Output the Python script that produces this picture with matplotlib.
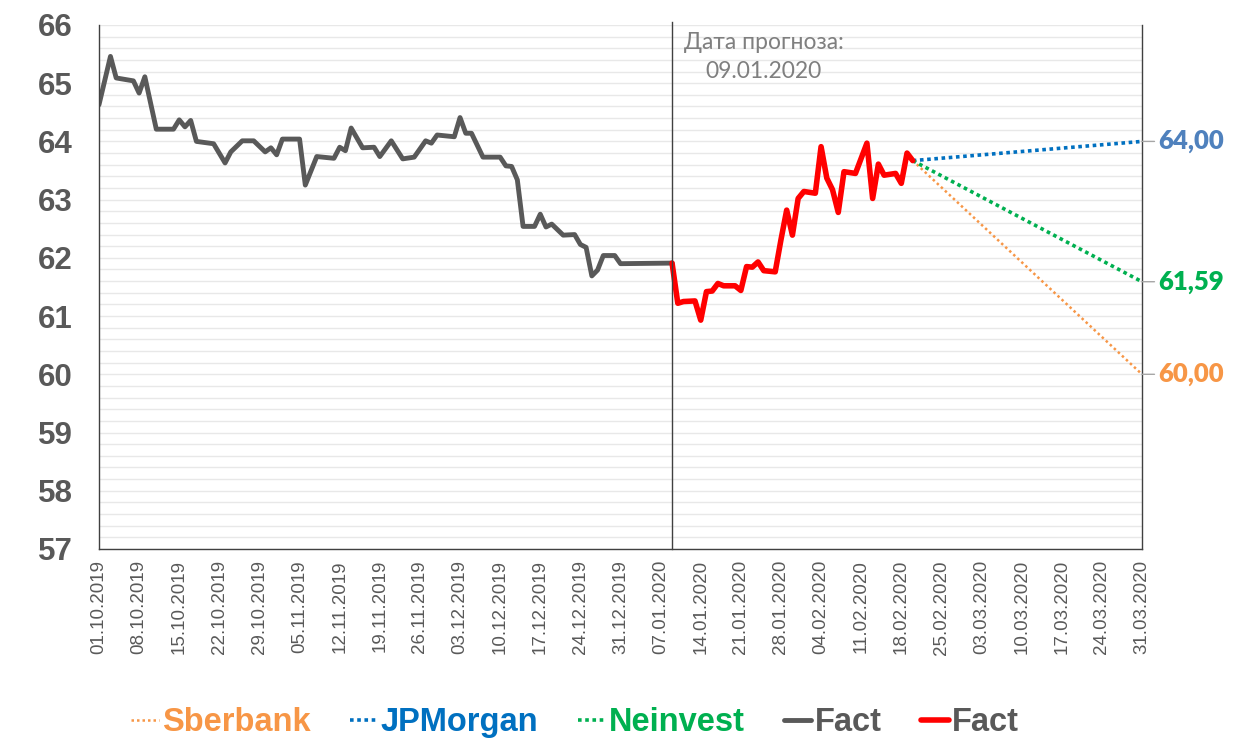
import numpy as np
import pandas as pd
import matplotlib
matplotlib.use('Agg')
import matplotlib.pyplot as plt
import matplotlib.dates as mdates

# --- data ---
gray_dates = ['01.10.2019', '03.10.2019', '04.10.2019', '07.10.2019', '08.10.2019', '09.10.2019',
              '11.10.2019', '14.10.2019', '15.10.2019', '16.10.2019', '17.10.2019', '18.10.2019',
              '21.10.2019', '23.10.2019', '24.10.2019', '26.10.2019', '28.10.2019', '30.10.2019',
              '31.10.2019', '01.11.2019', '02.11.2019', '05.11.2019', '06.11.2019', '08.11.2019',
              '11.11.2019', '12.11.2019', '13.11.2019', '14.11.2019', '16.11.2019', '18.11.2019',
              '19.11.2019', '21.11.2019', '23.11.2019', '25.11.2019', '27.11.2019', '28.11.2019',
              '29.11.2019', '02.12.2019', '03.12.2019', '04.12.2019', '05.12.2019', '07.12.2019',
              '10.12.2019', '11.12.2019', '12.12.2019', '13.12.2019', '14.12.2019', '16.12.2019',
              '17.12.2019', '18.12.2019', '19.12.2019', '21.12.2019', '23.12.2019', '24.12.2019',
              '25.12.2019', '26.12.2019', '27.12.2019', '28.12.2019', '30.12.2019', '31.12.2019',
              '09.01.2020']
gray_values = [64.63, 65.46, 65.09, 65.04, 64.83, 65.11, 64.21, 64.21, 64.37, 64.25, 64.36, 64.00,
               63.96, 63.63, 63.82, 64.01, 64.01, 63.82, 63.89, 63.77, 64.04, 64.04, 63.25, 63.74,
               63.71, 63.90, 63.84, 64.23, 63.89, 63.90, 63.74, 64.01, 63.70, 63.73, 64.01, 63.97,
               64.11, 64.08, 64.41, 64.14, 64.14, 63.73, 63.73, 63.58, 63.57, 63.34, 62.54, 62.54,
               62.75, 62.53, 62.58, 62.39, 62.40, 62.23, 62.18, 61.69, 61.79, 62.04, 62.04, 61.90,
               61.91]

red_dates = ['09.01.2020', '10.01.2020', '11.01.2020', '13.01.2020', '14.01.2020', '15.01.2020',
             '16.01.2020', '17.01.2020', '18.01.2020', '20.01.2020', '21.01.2020', '22.01.2020',
             '23.01.2020', '24.01.2020', '25.01.2020', '27.01.2020', '28.01.2020', '29.01.2020',
             '30.01.2020', '31.01.2020', '01.02.2020', '03.02.2020', '04.02.2020', '05.02.2020',
             '06.02.2020', '07.02.2020', '08.02.2020', '10.02.2020', '12.02.2020', '13.02.2020',
             '14.02.2020', '15.02.2020', '17.02.2020', '18.02.2020', '19.02.2020', '20.02.2020']
red_values = [61.91, 61.22, 61.25, 61.26, 60.93, 61.42, 61.43, 61.56, 61.52, 61.52, 61.44, 61.85,
              61.84, 61.93, 61.78, 61.76, 62.31, 62.82, 62.39, 63.02, 63.14, 63.11, 63.91, 63.37,
              63.17, 62.78, 63.48, 63.45, 63.97, 63.02, 63.61, 63.42, 63.45, 63.28, 63.80, 63.67]

forecast_dates = ['20.02.2020', '31.03.2020']
sberbank = [63.67, 60.00]
jpmorgan = [63.67, 64.00]
neinvest = [63.67, 61.59]

forecast_day = '09.01.2020'
start_day, end_day = '01.10.2019', '31.03.2020'

# --- plotting ---
def to_dt(lst):
    return pd.to_datetime(lst, format='%d.%m.%Y')

GRAY = '#595959'
ORANGE = '#F79646'
BLUE = '#0070C0'
GREEN = '#00B050'

plt.rcParams['font.family'] = ['Liberation Sans', 'DejaVu Sans']

fig = plt.figure(figsize=(12.39, 7.52), dpi=100)
ax = fig.add_axes([0.0799, 0.27, 0.9217 - 0.0799, 0.9668 - 0.27])

fd = to_dt(forecast_dates)
l1, = ax.plot(fd, sberbank, color=ORANGE, lw=1.8, linestyle=(0, (1, 1.2)), label='Sberbank')
l2, = ax.plot(fd, jpmorgan, color=BLUE, lw=2.6, linestyle=(0, (1, 1)), label='JPMorgan')
l3, = ax.plot(fd, neinvest, color=GREEN, lw=2.6, linestyle=(0, (1, 1)), label='Neinvest')
l4, = ax.plot(to_dt(gray_dates), gray_values, color=GRAY, lw=3.5,
              solid_joinstyle='round', solid_capstyle='round', label='Fact')
l5, = ax.plot(to_dt(red_dates), red_values, color='#FF0000', lw=4,
              solid_joinstyle='round', solid_capstyle='round', label='Fact')

ax.axvline(to_dt([forecast_day])[0], color='#404040', lw=1, ymax=1.005, clip_on=False)
ax.text(to_dt(['25.01.2020'])[0], 65.45, 'Дата прогноза:\n09.01.2020',
        ha='center', va='center', color='#7F7F7F', fontsize=16.5, linespacing=1.45,
        family=['Lato', 'DejaVu Sans'])

# right-side value labels
for vals, col in [(jpmorgan, '#4F81BD'), (neinvest, GREEN), (sberbank, ORANGE)]:
    ax.annotate(f'{vals[-1]:.2f}'.replace('.', ','), xy=(fd[-1], vals[-1]),
                xytext=(12, 0), textcoords='offset points', ha='left', va='center',
                fontsize=18.5, fontweight='heavy', color=col, family=['Lato', 'DejaVu Sans'],
                annotation_clip=False,
                arrowprops=dict(arrowstyle='-', color='#A6A6A6', lw=1, shrinkA=1, shrinkB=0))

ax.set_xlim(to_dt([start_day])[0], to_dt([end_day])[0])
ax.set_ylim(57, 66)
ax.set_yticks(np.arange(57, 67, 1))
ax.set_yticks(np.arange(57, 66.01, 0.2), minor=True)
ax.grid(True, which='both', axis='y', color='#E8E8E8', lw=1)
ax.set_axisbelow(True)

ticks = pd.date_range(to_dt([start_day])[0], to_dt([end_day])[0], freq='7D')
ax.set_xticks(ticks)
ax.xaxis.set_major_formatter(mdates.DateFormatter('%d.%m.%Y'))
plt.setp(ax.get_xticklabels(), rotation=90, fontsize=13.5, color=GRAY)
plt.setp(ax.get_yticklabels(), fontsize=22.5, fontweight='bold', color=GRAY)
ax.tick_params(axis='both', which='both', length=0)
ax.tick_params(axis='x', pad=8)
ax.tick_params(axis='y', pad=19)

for s in ['left', 'bottom', 'right']:
    ax.spines[s].set_color('#404040')
    ax.spines[s].set_linewidth(1)
ax.spines['top'].set_visible(False)

leg = fig.legend(handles=[l1, l2, l3, l4, l5], loc='center', bbox_to_anchor=(0.464, 0.039),
                 ncol=5, frameon=False, handlelength=0.85, handletextpad=0.1,
                 columnspacing=1.2, prop={'size': 23.5, 'weight': 'bold'})
for txt, col in zip(leg.get_texts(), [ORANGE, BLUE, GREEN, GRAY, GRAY]):
    txt.set_color(col)

fig.savefig('out.png', dpi=100)
